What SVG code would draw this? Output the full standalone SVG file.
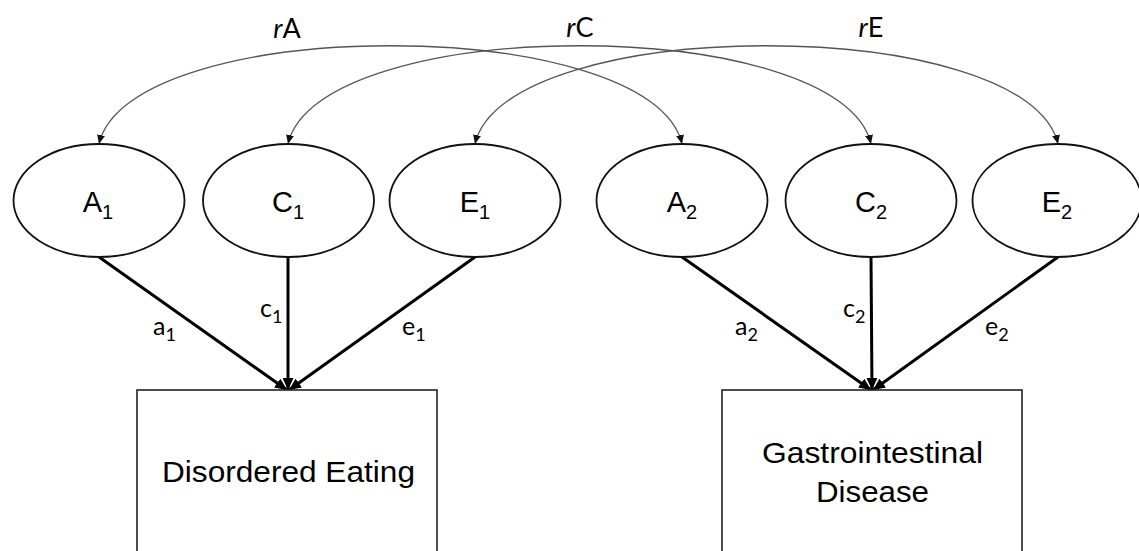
<svg xmlns="http://www.w3.org/2000/svg" width="1139" height="551" viewBox="0 0 1139 551">
<style>
.bg{fill:#ffffff}
.ell{fill:#ffffff;stroke:#111;stroke-width:1.8}
.box{fill:#ffffff;stroke:#222;stroke-width:1.6}
.arc{fill:none;stroke:#555;stroke-width:1.3}
.path{fill:none;stroke:#000;stroke-width:3}
.nlab{font-family:"Liberation Sans",Arial,sans-serif;font-size:29px;fill:#000}
.nsub{font-size:20px}
.blab{font-family:"Liberation Sans",Arial,sans-serif;font-size:30px;fill:#000}
.plab{font-family:Lato,"Open Sans",sans-serif;font-size:25px;fill:#000}
.psub{font-size:18px}
.rlab{font-family:Lato,"Open Sans",sans-serif;font-size:27px;fill:#000}
</style>
<defs>
<marker id="arcHead" markerWidth="10" markerHeight="8" refX="9" refY="4" orient="auto-start-reverse" markerUnits="userSpaceOnUse">
<path d="M0,0 L9,4 L0,8 Z" fill="#111"/>
</marker>
<marker id="pathHead" markerWidth="13" markerHeight="11" refX="12" refY="5.5" orient="auto" markerUnits="userSpaceOnUse">
<path d="M0,0 L12,5.5 L0,11 Z" fill="#000"/>
</marker>
</defs>
<rect class="bg" x="0" y="0" width="1139" height="551"/>
<g id="connectors">
<path class="arc" d="M99,144 C129,13 652,13 682,144" marker-start="url(#arcHead)" marker-end="url(#arcHead)"/>
<path class="arc" d="M288,144 C318,13 841,13 871,144" marker-start="url(#arcHead)" marker-end="url(#arcHead)"/>
<path class="arc" d="M475,144 C505,13 1028,13 1058,144" marker-start="url(#arcHead)" marker-end="url(#arcHead)"/>
<line class="path" x1="99" y1="257" x2="287" y2="390" marker-end="url(#pathHead)"/>
<line class="path" x1="288" y1="257" x2="288" y2="390" marker-end="url(#pathHead)"/>
<line class="path" x1="475" y1="257" x2="289" y2="390" marker-end="url(#pathHead)"/>
<line class="path" x1="682" y1="257" x2="871" y2="390" marker-end="url(#pathHead)"/>
<line class="path" x1="871" y1="257" x2="872" y2="390" marker-end="url(#pathHead)"/>
<line class="path" x1="1058" y1="257" x2="873" y2="390" marker-end="url(#pathHead)"/>
<text class="rlab" x="287" y="38" text-anchor="middle"><tspan font-style="italic">r</tspan>A</text>
<text class="rlab" x="580" y="37" text-anchor="middle"><tspan font-style="italic">r</tspan>C</text>
<text class="rlab" x="871" y="37" text-anchor="middle"><tspan font-style="italic">r</tspan>E</text>
<text class="plab" x="153" y="335">a<tspan class="psub" dy="6">1</tspan></text>
<text class="plab" x="260" y="317">c<tspan class="psub" dy="6">1</tspan></text>
<text class="plab" x="402" y="335">e<tspan class="psub" dy="6">1</tspan></text>
<text class="plab" x="735" y="335">a<tspan class="psub" dy="6">2</tspan></text>
<text class="plab" x="843" y="317">c<tspan class="psub" dy="6">2</tspan></text>
<text class="plab" x="985" y="335">e<tspan class="psub" dy="6">2</tspan></text>
</g>
<g id="A1"><ellipse class="ell" cx="99" cy="200.5" rx="85.5" ry="56.5"/><text class="nlab" x="98" y="212" text-anchor="middle">A<tspan class="nsub" dy="7">1</tspan></text></g>
<g id="C1"><ellipse class="ell" cx="288.5" cy="200.5" rx="85.5" ry="56.5"/><text class="nlab" x="288" y="212" text-anchor="middle">C<tspan class="nsub" dy="7">1</tspan></text></g>
<g id="E1"><ellipse class="ell" cx="475" cy="200.5" rx="85.5" ry="56.5"/><text class="nlab" x="475" y="212" text-anchor="middle">E<tspan class="nsub" dy="7">1</tspan></text></g>
<g id="A2"><ellipse class="ell" cx="682" cy="200.5" rx="85.5" ry="56.5"/><text class="nlab" x="682" y="212" text-anchor="middle">A<tspan class="nsub" dy="7">2</tspan></text></g>
<g id="C2"><ellipse class="ell" cx="871" cy="200.5" rx="85.5" ry="56.5"/><text class="nlab" x="871" y="212" text-anchor="middle">C<tspan class="nsub" dy="7">2</tspan></text></g>
<g id="E2"><ellipse class="ell" cx="1057" cy="200.5" rx="84.5" ry="56.5"/><text class="nlab" x="1057" y="212" text-anchor="middle">E<tspan class="nsub" dy="7">2</tspan></text></g>
<g id="DisorderedEating"><rect class="box" x="137" y="390" width="300" height="175"/><text class="blab" x="288.5" y="482" text-anchor="middle" textLength="253" lengthAdjust="spacingAndGlyphs">Disordered Eating</text></g>
<g id="GastrointestinalDisease"><rect class="box" x="722" y="390" width="300" height="175"/><text class="blab" x="872.5" y="463" text-anchor="middle" textLength="221" lengthAdjust="spacingAndGlyphs">Gastrointestinal</text><text class="blab" x="872.5" y="502" text-anchor="middle" textLength="113" lengthAdjust="spacingAndGlyphs">Disease</text></g>
</svg>
